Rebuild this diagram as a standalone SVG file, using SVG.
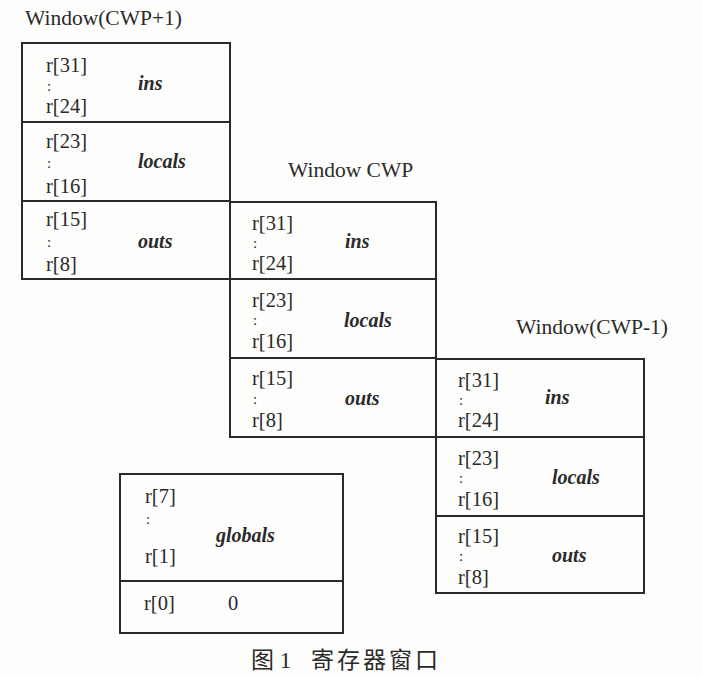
<svg xmlns="http://www.w3.org/2000/svg" width="702" height="676" viewBox="0 0 702 676">
<style>
.box{fill:none;stroke:#2a2a2a;stroke-width:2}
.ln{stroke:#2a2a2a;stroke-width:2}
.t{font-family:"Liberation Serif","Times New Roman",serif;font-size:20.5px;fill:#2a2a2a}
.c{font-family:"Liberation Serif","Times New Roman",serif;font-size:15px;fill:#2a2a2a}
.ti{font-family:"Liberation Serif","Times New Roman",serif;font-size:21.5px;fill:#2a2a2a}
.lb{font-family:"Liberation Serif","Times New Roman",serif;font-size:20px;font-style:italic;font-weight:bold;fill:#2a2a2a}
.cap{font-family:"Liberation Serif","Noto Sans CJK SC",serif;font-size:23px;fill:#2a2a2a}
</style>
<rect width="702" height="676" fill="#fdfdfb"/>
<g id="win-cwp-plus1">
<text class="ti" x="25" y="25">Window(CWP+1)</text>
<rect class="box" x="22" y="43" width="208" height="236"/>
<line class="ln" x1="22" y1="122" x2="230" y2="122"/>
<line class="ln" x1="22" y1="201" x2="230" y2="201"/>
<text class="t" x="46" y="72">r[31]</text><text class="c" x="47" y="91">:</text><text class="t" x="46" y="113">r[24]</text>
<text class="lb" x="138" y="90">ins</text>
<text class="t" x="46" y="148">r[23]</text><text class="c" x="47" y="168">:</text><text class="t" x="46" y="193">r[16]</text>
<text class="lb" x="138" y="168">locals</text>
<text class="t" x="46" y="226">r[15]</text><text class="c" x="47" y="247">:</text><text class="t" x="46" y="271">r[8]</text>
<text class="lb" x="138" y="248">outs</text>
</g>
<g id="win-cwp">
<text class="ti" x="288" y="177">Window CWP</text>
<rect class="box" x="230" y="202" width="206" height="235"/>
<line class="ln" x1="230" y1="279" x2="436" y2="279"/>
<line class="ln" x1="230" y1="358" x2="436" y2="358"/>
<text class="t" x="252" y="230">r[31]</text><text class="c" x="253" y="248">:</text><text class="t" x="252" y="270">r[24]</text>
<text class="lb" x="345" y="248">ins</text>
<text class="t" x="252" y="307">r[23]</text><text class="c" x="253" y="325">:</text><text class="t" x="252" y="348">r[16]</text>
<text class="lb" x="344" y="327">locals</text>
<text class="t" x="252" y="385">r[15]</text><text class="c" x="253" y="404">:</text><text class="t" x="252" y="427">r[8]</text>
<text class="lb" x="345" y="405">outs</text>
</g>
<g id="win-cwp-minus1">
<text class="ti" x="516" y="334">Window(CWP-1)</text>
<rect class="box" x="436" y="359" width="208" height="234"/>
<line class="ln" x1="436" y1="437" x2="644" y2="437"/>
<line class="ln" x1="436" y1="516" x2="644" y2="516"/>
<text class="t" x="458" y="387">r[31]</text><text class="c" x="459" y="405">:</text><text class="t" x="458" y="427">r[24]</text>
<text class="lb" x="545" y="404">ins</text>
<text class="t" x="458" y="465">r[23]</text><text class="c" x="459" y="483">:</text><text class="t" x="458" y="506">r[16]</text>
<text class="lb" x="552" y="484">locals</text>
<text class="t" x="458" y="543">r[15]</text><text class="c" x="459" y="561">:</text><text class="t" x="458" y="584">r[8]</text>
<text class="lb" x="552" y="562">outs</text>
</g>
<g id="globals">
<rect class="box" x="120" y="474" width="223" height="159"/>
<line class="ln" x1="120" y1="581" x2="343" y2="581"/>
<text class="t" x="145" y="503">r[7]</text><text class="c" x="146" y="524">:</text><text class="t" x="145" y="563">r[1]</text>
<text class="lb" x="216" y="542">globals</text>
<text class="t" x="144" y="610">r[0]</text>
<text class="t" x="228" y="610">0</text>
</g>
<g id="connectors"></g>
<g id="caption">
<text class="cap" x="251" y="668">图 1</text>
<text class="cap" x="311" y="668" textLength="127">寄存器窗口</text>
</g>
</svg>
